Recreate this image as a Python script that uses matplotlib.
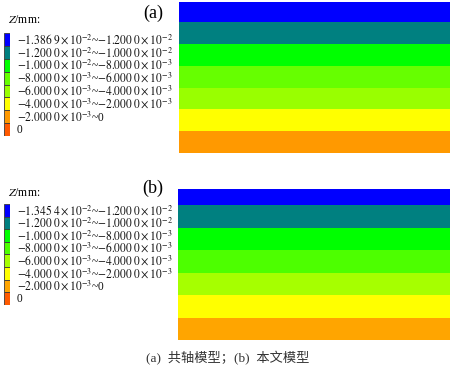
import matplotlib
matplotlib.use("Agg")
import matplotlib.pyplot as plt
from matplotlib.transforms import blended_transform_factory

plt.rcParams['font.family'] = ['Liberation Serif', 'Noto Sans CJK SC']
plt.rcParams['mathtext.fontset'] = 'stix'

# contour levels of the Z displacement (mm), top of the part -> bottom
levels_a = [-1.3869e-2, -1.2e-2, -1.0e-2, -8e-3, -6e-3, -4e-3, -2e-3, 0.0]
levels_b = [-1.3454e-2, -1.2e-2, -1.0e-2, -8e-3, -6e-3, -4e-3, -2e-3, 0.0]

colors_a = ['#0000FF', '#008080', '#00FF00', '#66FF00', '#99FF00', '#FFFF00', '#FF9900']
colors_b = ['#0000FF', '#008080', '#00FF00', '#4DFF00', '#A6FF00', '#FFFF00', '#FFA500']
color_zero = '#FF5A00'

labels_a = [
    r"$-1.386\;9\times10^{-2}$~$-1.200\;0\times10^{-2}$",
    r"$-1.200\;0\times10^{-2}$~$-1.000\;0\times10^{-2}$",
    r"$-1.000\;0\times10^{-2}$~$-8.000\;0\times10^{-3}$",
    r"$-8.000\;0\times10^{-3}$~$-6.000\;0\times10^{-3}$",
    r"$-6.000\;0\times10^{-3}$~$-4.000\;0\times10^{-3}$",
    r"$-4.000\;0\times10^{-3}$~$-2.000\;0\times10^{-3}$",
    r"$-2.000\;0\times10^{-3}$~0",
    "0",
]
labels_b = [r"$-1.345\;4\times10^{-2}$~$-1.200\;0\times10^{-2}$"] + labels_a[1:]

W, H = 450, 369


def px_axes(fig, x0, y0, x1, y1):
    # pixel box (top-left origin) -> figure axes
    return fig.add_axes([x0 / W, 1 - y1 / H, (x1 - x0) / W, (y1 - y0) / H])


def draw_bands(ax, levels, colors):
    for i, c in enumerate(colors):
        ax.bar(0.5, levels[i + 1] - levels[i], bottom=levels[i], width=1.0,
               color=c, edgecolor='none')
    ax.set_xlim(0, 1)
    ax.set_ylim(levels[-1], levels[0])
    ax.axis('off')


def draw_legend(ax, colors, labels):
    sw = colors + [color_zero]
    for i, c in enumerate(sw):
        ax.bar(0.5, 1, bottom=i, width=1.0, color=c, edgecolor='#3a3a3a', linewidth=0.6)
    ax.set_xlim(0, 1)
    ax.set_ylim(len(sw), 0)
    ax.axis('off')
    tr = blended_transform_factory(ax.transAxes, ax.transData)
    for i, lab in enumerate(labels):
        ax.text(2.1, i + 0.5, lab, transform=tr, ha='left', va='center',
                fontsize=8.3, color='#111111')


fig = plt.figure(figsize=(4.5, 3.69), dpi=100)

ax_a = px_axes(fig, 179, 2, 450, 153)
draw_bands(ax_a, levels_a, colors_a)
ax_b = px_axes(fig, 178, 189, 450, 340)
draw_bands(ax_b, levels_b, colors_b)

leg_a = px_axes(fig, 4, 33, 10, 136)
draw_legend(leg_a, colors_a, labels_a)
leg_b = px_axes(fig, 4, 204, 10, 305)
draw_legend(leg_b, colors_b, labels_b)

fig.text(8 / W, 1 - 20 / H, "$Z$/mm:", ha='left', va='center', fontsize=8.5)
fig.text(8 / W, 1 - 193 / H, "$Z$/mm:", ha='left', va='center', fontsize=8.5)
fig.text(153 / W, 1 - 13 / H, "(a)", ha='center', va='center', fontsize=13)
fig.text(153 / W, 1 - 188 / H, "(b)", ha='center', va='center', fontsize=13)

fig.text(228 / W, 1 - 358 / H, "(a)  共轴模型；(b)  本文模型", ha='center', va='center',
         fontsize=9.5, color='#333333')

fig.savefig("out.png", dpi=100)
